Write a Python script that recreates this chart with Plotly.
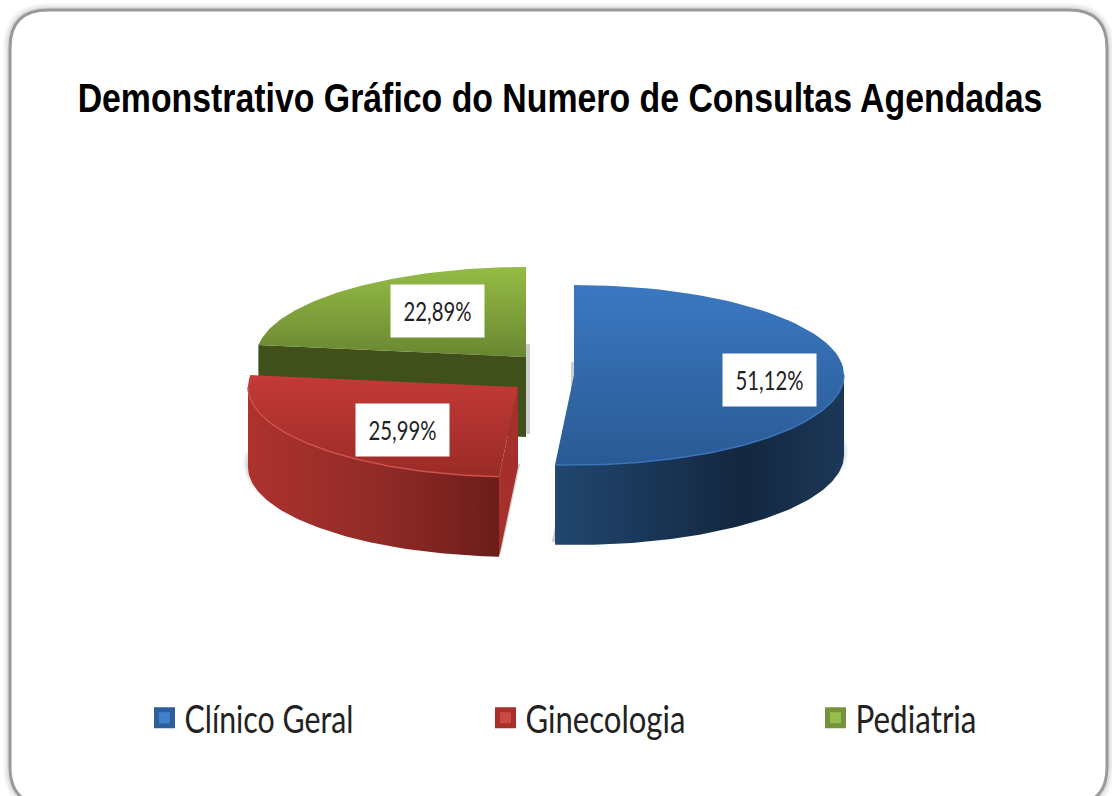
import math
import plotly.graph_objects as go

title = "Demonstrativo Gráfico do Numero de Consultas Agendadas"
categories = ["Clínico Geral", "Ginecologia", "Pediatria"]
values = [51.12, 25.99, 22.89]
labels = ["51,12%", "25,99%", "22,89%"]

# styling / layout constants
W, H = 1112, 796
RX, RY, DEPTH = 270, 90, 80
CENTERS = [(574, 375), (518, 387), (526, 357)]          # exploded slice centres
LABEL_POS = [(769.5, 379.5), (402, 430), (437.5, 310.5)]
LEGEND_X = [144.5, 485.5, 815.5]
LEGEND_Y = 718
TOP_COL = [["#3b78c2", "#2a5a94"], ["#c43a37", "#9a2b27"], ["#95bc45", "#6a8731"]]
SIDE_COL = [
    [[0, "#21466f"], [0.65, "#13273f"], [1, "#1c3858"]],
    [[0, "#ae322d"], [0.55, "#8f2a27"], [1, "#6c1d1a"]],
    [[0, "#40501a"], [1, "#40501a"]],
]
RADIAL_COL = ["#2a5a94", "#a5302b", "#40501a"]
RIM_COL = ["#3a74ba", "#d0504b", "#8fb343"]
SWATCH_FILL = ["#4180ca", "#cc4a46", "#99bd4a"]
SWATCH_EDGE = ["#2c5f9c", "#a83029", "#75933a"]
SHADOW_DX = [-3, 2, 4]


def arc(cx, cy, a0, a1, rx=RX, ry=RY, dy=0, n=80):
    pts = [a0 + (a1 - a0) * i / n for i in range(n + 1)]
    return ([cx + rx * math.cos(t) for t in pts],
            [cy + dy + ry * math.sin(t) for t in pts])


# slice angles come from the values: clockwise from 12 o'clock
total = sum(values)
angles = []
a = -math.pi / 2
for v in values:
    b = a + 2 * math.pi * v / total
    angles.append((a, b))
    a = b

fig = go.Figure()


def poly(xs, ys, **kw):
    fig.add_trace(go.Scatter(x=xs, y=ys, mode="lines", fill="toself", line=dict(width=0),
                             hoverinfo="skip", showlegend=False, **kw))


# draw back to front: Pediatria, Ginecologia, Clínico Geral
for i in [2, 1, 0]:
    (cx, cy), (a0, a1) = CENTERS[i], angles[i]
    # soft drop shadow: the bottom face, slightly enlarged
    for grow, alpha in [(7, 0.06), (5, 0.09), (3, 0.13)]:
        sx, sy = arc(cx + SHADOW_DX[i], cy, a0, a1, RX + grow, RY, DEPTH - 3)
        poly(sx + [cx + SHADOW_DX[i]], sy + [cy + DEPTH - 3], fillcolor=f"rgba(60,60,60,{alpha})")
    # outer wall, only where the rim faces the viewer
    lo, hi = max(a0, 0), min(a1, math.pi)
    if lo < hi:
        xs, ys = arc(cx, cy, lo, hi)
        xb, yb = arc(cx, cy, lo, hi, dy=DEPTH)
        poly(xs + xb[::-1], ys + yb[::-1], fillcolor=SIDE_COL[i][0][1],
             fillgradient=dict(type="horizontal", colorscale=SIDE_COL[i]))
    # radial wall
    if i in (1, 2):
        x1, y1 = cx + RX * math.cos(a0), cy + RY * math.sin(a0)
        poly([cx, x1, x1, cx], [cy, y1, y1 + DEPTH, cy + DEPTH], fillcolor=RADIAL_COL[i])
    # top face (y axis is reversed, so the gradient's end is the visual top)
    xs, ys = arc(cx, cy, a0, a1)
    poly(xs + [cx], ys + [cy], fillcolor=TOP_COL[i][0],
         fillgradient=dict(type="vertical",
                           colorscale=[[0, TOP_COL[i][1]], [1, TOP_COL[i][0]]]))
    # light rim
    if lo < hi:
        xr, yr = arc(cx, cy, lo, hi)
        fig.add_trace(go.Scatter(x=xr, y=yr, mode="lines", line=dict(color=RIM_COL[i], width=1.5),
                                 hoverinfo="skip", showlegend=False))

# legend entries: one legend per category, so each can sit where the reference has it
legend_layout = {}
for k, (name, col, edge, lx) in enumerate(zip(categories, SWATCH_FILL, SWATCH_EDGE, LEGEND_X)):
    key = "legend" if k == 0 else f"legend{k + 1}"
    fig.add_trace(go.Scatter(x=[None], y=[None], mode="markers", name=name, legend=key,
                             marker=dict(symbol="square", size=16, color=col,
                                         line=dict(color=edge, width=5))))
    legend_layout[key] = dict(x=lx / W, xanchor="left", y=1 - LEGEND_Y / H, yanchor="middle",
                              itemsizing="trace", bgcolor="rgba(0,0,0,0)",
                              font=dict(family="Lato", size=38, color="#222222"))

# percentage labels
for (x, y), text in zip(LABEL_POS, labels):
    fig.add_annotation(x=x, y=y, text=text, showarrow=False, width=91, height=50,
                       bgcolor="white", align="center", valign="middle",
                       font=dict(family="Lato", size=26, color="#222222"))

FRAME = "M 48 10 L 1069 10 Q 1107 10 1107 48 L 1107 767 Q 1107 805 1069 805 L 48 805 Q 10 805 10 767 L 10 48 Q 10 10 48 10 Z"
shapes = [dict(type="path", path=FRAME, xref="x", yref="y", layer="below",
               line=dict(color=f"rgba(90,90,90,{al})", width=w))
          for w, al in [(14, 0.05), (10, 0.07), (6, 0.10)]]
shapes.append(dict(type="path", path=FRAME, xref="x", yref="y", layer="below",
                   fillcolor="white", line=dict(color="#9a9a9a", width=3)))

fig.update_layout(
    width=W, height=H, margin=dict(l=0, r=0, t=0, b=0), autosize=False,
    paper_bgcolor="white", plot_bgcolor="rgba(0,0,0,0)",
    xaxis=dict(range=[0, W], visible=False, fixedrange=True),
    yaxis=dict(range=[H, 0], visible=False, fixedrange=True),
    shapes=shapes,
    title=dict(text=f"<b>{title}</b>", x=0.5036, xanchor="center", y=0.877, yanchor="middle",
               font=dict(family="Liberation Sans", size=41, color="black")),
    **legend_layout,
)

# The reference's text is horizontally condensed; no condensed face is installed,
# so narrow the real SVG text to the measured widths.
POST = """
document.body.style.margin='0';document.documentElement.style.overflow='hidden';
function squeeze(el,target,anchorLeft){
  var b=el.getBBox();if(!b.width)return;
  var s=target/b.width;var c=anchorLeft?b.x:b.x+b.width/2;
  var t=el.getAttribute('transform')||'';
  el.setAttribute('transform',t+' translate('+c+',0) scale('+s+',1) translate('+(-c)+',0)');
}
squeeze(document.querySelector('.gtitle'),965,false);
squeeze(document.querySelector('.legendtext'),169,true);
squeeze(document.querySelector('.legend2text'),160,true);
squeeze(document.querySelector('.legend3text'),121,true);
document.querySelectorAll('.annotation-text').forEach(function(e){squeeze(e,68,false);});
"""
fig.write_html("out.html", config=dict(displayModeBar=False), post_script=POST)
